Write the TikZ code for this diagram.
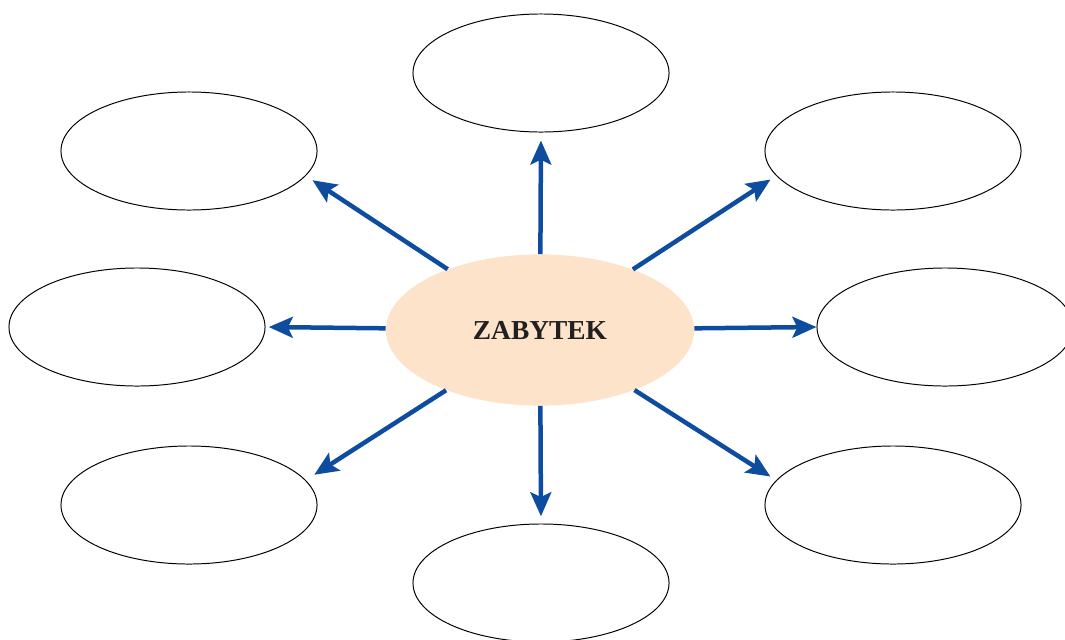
\documentclass[tikz,border=0pt]{standalone}
\usepackage{fontspec}
\setmainfont{Liberation Serif}
\usetikzlibrary{shapes.geometric, arrows.meta}
\definecolor{arrowblue}{RGB}{14,76,160}
\definecolor{peach}{RGB}{253,227,202}
\definecolor{textdark}{RGB}{35,31,32}

\begin{document}
\begin{tikzpicture}[x=0.025cm, y=-0.025cm,
    box/.style={ellipse, draw, line width=0.7pt, minimum width=6.4cm, minimum height=2.95cm, inner sep=0pt},
    hub/.style={ellipse, fill=peach, minimum width=7.7cm, minimum height=3.78cm, inner sep=0pt,
        font=\fontsize{19.5}{22}\selectfont\bfseries, text=textdark},
    link/.style={arrowblue, line width=3.2pt, -{Stealth[length=0.6cm, width=0.52cm, inset=0.12cm]}}]
    \clip (0,0) rectangle (1065,639);
    \useasboundingbox (0,0) rectangle (1065,639);

    % Define nodes
    \node[hub] (C) at (540,330) {ZABYTEK};

    \node[box] (T)  at (541,73)  {};
    \node[box] (UL) at (189,151) {};
    \node[box] (UR) at (893,151) {};
    \node[box] (L)  at (137,327) {};
    \node[box] (R)  at (945,327) {};
    \node[box] (LL) at (189,505) {};
    \node[box] (LR) at (893,505) {};
    \node[box] (B)  at (541,583) {};

    % Draw arrows
    \draw[link, shorten >=0.2cm]  (C) -- (T.270);
    \draw[link, shorten >=0.2cm]  (C) -- (UL.-12);
    \draw[link, shorten >=0.17cm] (C) -- (UR.192);
    \draw[link, shorten >=0.08cm] (C) -- (L.0);
    \draw[link]                   (C) -- (R.180);
    \draw[link, shorten >=0.25cm] (C) -- (LL.12);
    \draw[link, shorten >=0.17cm] (C) -- (LR.168);
    \draw[link, shorten >=0.18cm] (C) -- (B.90);
\end{tikzpicture}
\end{document}
